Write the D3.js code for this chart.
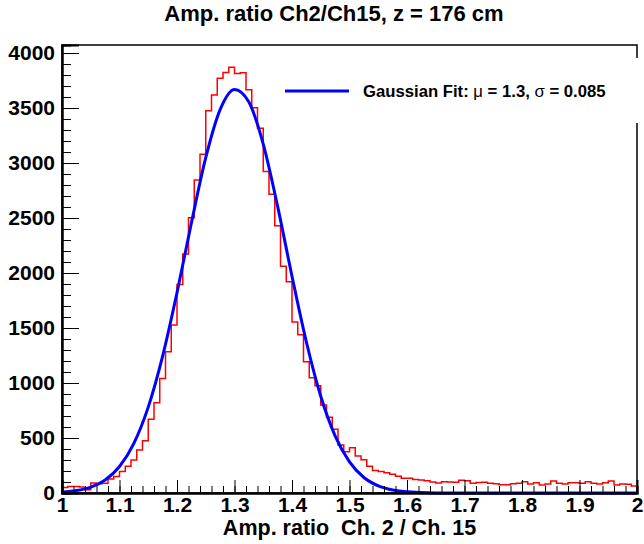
<!DOCTYPE html>
<html>
<head>
<meta charset="utf-8">
<script src="https://cdn.jsdelivr.net/npm/d3@7"></script>
<style>
  body { margin: 0; background: #fff; }
  svg { display: block; font-family: "Liberation Sans", Arial, Helvetica, sans-serif; font-weight: bold; }
</style>
</head>
<body>
<svg id="chart"></svg>
<script>
// histogram: 100 bins from 1 to 2
const xMin = 1;
const xMax = 2;
const counts = [
  50, 58, 58, 55, 30, 92, 84, 88, 128, 150,
  195, 243, 300, 390, 476, 670, 821, 1042, 1285, 1527,
  1895, 2173, 2503, 2845, 3079, 3476, 3618, 3770, 3824, 3870,
  3815, 3821, 3667, 3503, 3315, 2924, 2715, 2430, 2061, 1921,
  1555, 1438, 1194, 1048, 976, 800, 688, 579, 436, 376,
  412, 336, 303, 243, 205, 195, 185, 170, 152, 133,
  133, 122, 118, 112, 100, 92, 103, 100, 97, 115,
  112, 88, 95, 97, 88, 84, 76, 76, 85, 88,
  103, 82, 94, 73, 82, 109, 88, 82, 94, 94,
  88, 103, 88, 82, 94, 109, 73, 82, 79, 64
];

// fit curve
const fitX = [1.000, 1.025, 1.050, 1.075, 1.100, 1.125, 1.150, 1.175, 1.200, 1.225,
  1.250, 1.275, 1.300, 1.325, 1.350, 1.375, 1.400, 1.425, 1.450, 1.475,
  1.500, 1.525, 1.550, 1.575, 1.600, 1.650, 1.700, 1.800, 1.900, 2.000];
const fitY = [8, 22, 54, 118, 241, 452, 781, 1244, 1821, 2455,
  3048, 3485, 3668, 3554, 3172, 2606, 1971, 1373, 880, 520,
  283, 141, 65, 28, 11, 1, 0, 0, 0, 0];

const title = 'Amp. ratio Ch2/Ch15, z = 176 cm';
const xTitle = 'Amp. ratio  Ch. 2 / Ch. 15';
const yTicks = [0, 500, 1000, 1500, 2000, 2500, 3000, 3500, 4000];
const xTicks = [1, 1.1, 1.2, 1.3, 1.4, 1.5, 1.6, 1.7, 1.8, 1.9, 2];

const w = 644;
const h = 544;
const pLeft = 62, pRight = 637, pTop = 45, pBottom = 493;

const svg = d3.select('#chart')
  .attr('width', w)
  .attr('height', h);

const xScale = d3.scaleLinear().domain([xMin, xMax]).range([pLeft, pRight]);
const yScale = d3.scaleLinear().domain([0, 4073]).range([pBottom, pTop]);

// frame
svg.append('rect')
  .attr('x', pLeft).attr('y', pTop)
  .attr('width', pRight - pLeft).attr('height', pBottom - pTop)
  .attr('fill', 'none').attr('stroke', '#000').attr('stroke-width', 1.5);

// histogram
const binW = (xMax - xMin) / counts.length;
const steps = counts.map((c, i) => [xMin + i * binW, c]);
steps.push([xMax, counts[counts.length - 1]]);

svg.append('path')
  .datum(steps)
  .attr('fill', 'none')
  .attr('stroke', '#ff0000')
  .attr('stroke-width', 1.5)
  .attr('d', d3.line()
    .x(d => xScale(d[0]))
    .y(d => yScale(d[1]))
    .curve(d3.curveStepAfter));

// fit
svg.append('path')
  .datum(fitX.map((x, i) => [x, fitY[i]]))
  .attr('fill', 'none')
  .attr('stroke', '#0000ff')
  .attr('stroke-width', 3)
  .attr('d', d3.line()
    .x(d => xScale(d[0]))
    .y(d => yScale(d[1]))
    .curve(d3.curveMonotoneX));

// axes
const xMinor = d3.axisBottom(xScale).tickValues(d3.range(0, 51).map(i => 1 + i * 0.02)).tickSize(-7).tickFormat('');
const xMajor = d3.axisBottom(xScale).tickValues(xTicks).tickSize(-13).tickPadding(4).tickFormat(d3.format('~g'));
const yMinor = d3.axisLeft(yScale).tickValues(d3.range(0, 41).map(i => i * 100)).tickSize(-9).tickFormat('');
const yMajor = d3.axisLeft(yScale).tickValues(yTicks).tickSize(-17).tickPadding(7).tickFormat(d3.format('d'));

[xMinor, xMajor].forEach(ax => {
  svg.append('g').attr('transform', `translate(0, ${pBottom})`).call(ax);
});
[yMinor, yMajor].forEach(ax => {
  svg.append('g').attr('transform', `translate(${pLeft}, 0)`).call(ax);
});

svg.selectAll('.domain').attr('stroke', '#000').attr('stroke-width', 2);
svg.selectAll('.tick line').attr('stroke', '#000');
svg.selectAll('.tick text')
  .attr('fill', '#000')
  .attr('font-size', 21)
  .attr('font-weight', 'bold')
  .attr('font-family', '"Liberation Sans", Arial, sans-serif');

// legend box covering the frame
svg.append('rect')
  .attr('x', 278).attr('y', 58)
  .attr('width', w - 278).attr('height', 65)
  .attr('fill', '#fff');

svg.append('line')
  .attr('x1', 285).attr('x2', 349)
  .attr('y1', 91).attr('y2', 91)
  .attr('stroke', '#0000ff').attr('stroke-width', 3);

const lt = svg.append('text')
  .attr('x', 363).attr('y', 97)
  .attr('font-size', 16.7);
lt.append('tspan').text('Gaussian Fit: ');
lt.append('tspan').attr('font-weight', 'normal').text('μ');
lt.append('tspan').text(' = 1.3, ');
lt.append('tspan').attr('font-weight', 'normal').text('σ');
lt.append('tspan').text(' = 0.085');

// titles
svg.append('text')
  .attr('x', 334).attr('y', 21)
  .attr('text-anchor', 'middle')
  .attr('font-size', 22)
  .text(title);

svg.append('text')
  .attr('x', (pLeft + pRight) / 2).attr('y', 535)
  .attr('text-anchor', 'middle')
  .attr('font-size', 21.5)
  .style('white-space', 'pre')
  .text(xTitle);
</script>
</body>
</html>
